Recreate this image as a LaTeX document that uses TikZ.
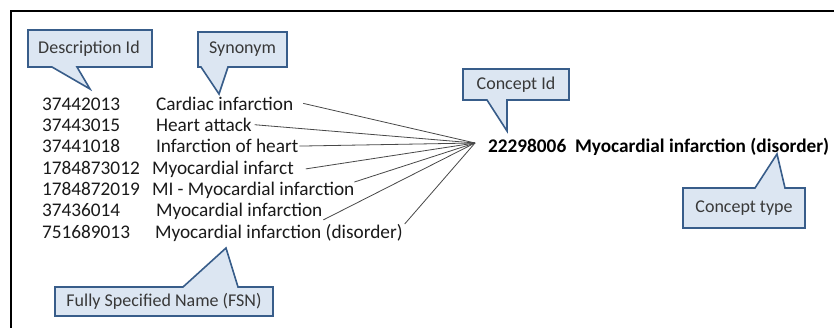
\documentclass[tikz,border=0pt]{standalone}
\usepackage{fontspec}
\setmainfont{Carlito}
\definecolor{calloutblue}{HTML}{385D8A}
\definecolor{calloutfill}{HTML}{DCE6F2}
\definecolor{leadergray}{HTML}{484848}
\definecolor{bodytext}{HTML}{1A1A1A}

\begin{document}
\begin{tikzpicture}[
    x=1pt, y=-1pt,
    every node/.style={inner sep=0pt, outer sep=0pt},
    idtext/.style={anchor=base west, font=\fontsize{19.3}{21}\selectfont, text=bodytext},
    termtext/.style={anchor=base west, font=\fontsize{19.3}{21}\selectfont, text=bodytext},
    concept/.style={anchor=base west, font=\fontsize{19.3}{21}\selectfont\bfseries, text=black},
    calloutbox/.style={draw=calloutblue, fill=calloutfill, line width=1.6pt, line join=miter},
    callouttext/.style={font=\fontsize{18}{20}\selectfont, text=black!78},
    leader/.style={draw=leadergray, line width=0.8pt},
    frame/.style={draw=black, line width=2.5pt}
]

\useasboundingbox (0,0) rectangle (834,327);
\fill[white] (0,0) rectangle (834,327);

\draw[frame] (11,340) -- (11,11) -- (850,11);

\foreach \i/\id/\nm/\x in {
    1/37442013/Cardiac infarction/156,
    2/37443015/Heart attack/156,
    3/37441018/Infarction of heart/156,
    4/1784873012/Myocardial infarct/152,
    5/1784872019/MI - Myocardial infarction/152,
    6/37436014/Myocardial infarction/156,
    7/751689013/Myocardial infarction (disorder)/155
} {
    \pgfmathsetmacro{\yb}{110+21.35*(\i-1)}
    \node[idtext] (d\i) at (42,\yb) {\id};
    \node[termtext] (s\i) at (\x,\yb) {\nm};
}

\coordinate (hub) at (475,143);
\node[concept] (c) at (488,152) {22298006\ \ Myocardial infarction (disorder)};

\foreach \i/\a/\gap in {1/east/10, 2/east/3, 3/east/1, 4/east/12, 5/north east/0, 6/south east/1, 7/north east/2}
    \draw[leader] ([xshift=\gap pt]s\i.\a) -- (hub);

\draw[calloutbox] (28,30) -- (152,30) -- (152,67) -- (77,67) -- (90,89) -- (52,67) -- (28,67) -- cycle;
\node[callouttext] (descid) at (89,48.5) {Description Id};

\draw[calloutbox] (198,32) -- (287,32) -- (287,67) -- (228,67) -- (219,94) -- (201,67) -- (198,67) -- cycle;
\node[callouttext] (syn) at (242.5,49.5) {Synonym};

\draw[calloutbox] (463,69) -- (569,69) -- (569,100) -- (507,100) -- (507,131) -- (487,100) -- (463,100) -- cycle;
\node[callouttext] (cid) at (516,84.5) {Concept Id};

\draw[calloutbox] (683,188) -- (755,188) -- (777,154) -- (785,188) -- (805,188) -- (805,228) -- (683,228) -- cycle;
\node[callouttext] (ctype) at (744,208) {Concept type};

\draw[calloutbox] (55,287) -- (183,287) -- (226,248) -- (238,287) -- (273,287) -- (273,316) -- (55,316) -- cycle;
\node[callouttext] (fsn) at (164,301.5) {Fully Specified Name (FSN)};

\end{tikzpicture}
\end{document}
